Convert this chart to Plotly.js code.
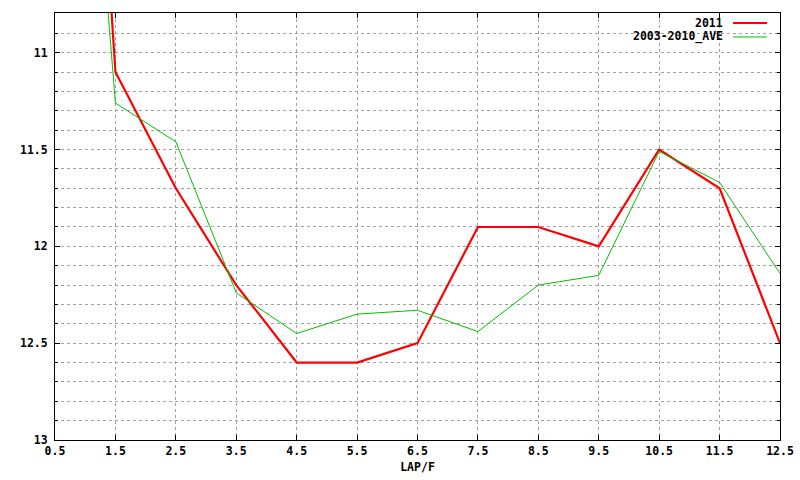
<!DOCTYPE html>
<html>
<head>
<meta charset="utf-8">
<script src="https://cdn.plot.ly/plotly-3.0.1.min.js"></script>
<style>html,body{margin:0;padding:0;background:#fff;}#chart{width:800px;height:480px;}</style>
</head>
<body>
<div id="chart"></div>
<script>
const laps = [0.5, 1.5, 2.5, 3.5, 4.5, 5.5, 6.5, 7.5, 8.5, 9.5, 10.5, 11.5, 12.5];
const series2011 = [6.3, 11.1, 11.7, 12.2, 12.6, 12.6, 12.5, 11.9, 11.9, 12.0, 11.5, 11.7, 12.5];
const seriesAve = [7.4, 11.26, 11.46, 12.24, 12.45, 12.35, 12.33, 12.44, 12.2, 12.15, 11.51, 11.67, 12.14];
const xTickVals = [0.5, 1.5, 2.5, 3.5, 4.5, 5.5, 6.5, 7.5, 8.5, 9.5, 10.5, 11.5, 12.5];
const xTickText = ['0.5', '1.5', '2.5', '3.5', '4.5', '5.5', '6.5', '7.5', '8.5', '9.5', '10.5', '11.5', '12.5'];
const yTickVals = [11, 11.5, 12, 12.5, 13];
const yTickText = ['11', '11.5', '12', '12.5', '13'];
const names = ['2011', '2003-2010_AVE'];

const FONT = {family: 'DejaVu Sans Mono, Liberation Mono, monospace', size: 11.5, color: '#000', weight: 'bold'};
const GRID = '#a0a0a0';

const traces = [
  {x: laps, y: series2011, name: names[0], type: 'scatter', mode: 'lines',
   line: {color: '#ff0000', width: 2.2}},
  {x: laps, y: seriesAve, name: names[1], type: 'scatter', mode: 'lines',
   line: {color: '#00c000', width: 1}}
];

const layout = {
  width: 800, height: 480,
  margin: {l: 55, r: 20, t: 13, b: 40, pad: 0},
  paper_bgcolor: '#fff', plot_bgcolor: '#fff',
  showlegend: false,
  font: FONT,
  xaxis: {
    range: [0.5, 12.5], tickmode: 'array', tickvals: xTickVals, ticktext: xTickText,
    ticks: 'inside', ticklen: 5, tickcolor: '#000', tickwidth: 1,
    showline: true, linecolor: '#000', linewidth: 1, mirror: 'ticks',
    showgrid: true, gridcolor: GRID, griddash: 'dot', gridwidth: 1,
    zeroline: false, tickfont: FONT,
    title: {text: 'LAP/F', font: FONT, standoff: 6}
  },
  yaxis: {
    range: [13, 10.795], tickmode: 'array', tickvals: yTickVals, ticktext: yTickText,
    ticks: 'inside', ticklen: 5, tickcolor: '#000', tickwidth: 1,
    showline: true, linecolor: '#000', linewidth: 1, mirror: 'ticks',
    showgrid: true, gridcolor: GRID, griddash: 'dot', gridwidth: 1,
    zeroline: false, tickfont: FONT, ticklabelstandoff: 4,
    minor: {dtick: 0.1, tick0: 11, ticks: 'inside', ticklen: 3, tickcolor: '#000',
            showgrid: true, gridcolor: GRID, griddash: 'dot', gridwidth: 1}
  },
  annotations: [
    {xref: 'paper', yref: 'paper', x: 0.9241, y: 0.9766, text: names[0], showarrow: false,
     xanchor: 'right', yanchor: 'middle', font: FONT},
    {xref: 'paper', yref: 'paper', x: 0.9241, y: 0.9438, text: names[1], showarrow: false,
     xanchor: 'right', yanchor: 'middle', font: FONT}
  ],
  shapes: [
    {type: 'line', xref: 'paper', yref: 'paper', x0: 0.9352, x1: 0.9821, y0: 0.9766, y1: 0.9766,
     line: {color: '#ff0000', width: 2.2}},
    {type: 'line', xref: 'paper', yref: 'paper', x0: 0.9352, x1: 0.9821, y0: 0.9438, y1: 0.9438,
     line: {color: '#00c000', width: 1}}
  ]
};

Plotly.newPlot('chart', traces, layout, {displayModeBar: false, staticPlot: true});
</script>
</body>
</html>
